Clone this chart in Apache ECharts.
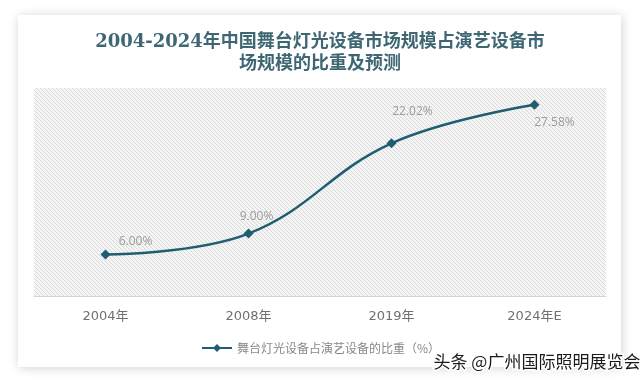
<!DOCTYPE html>
<html><head><meta charset="utf-8">
<script src="https://cdn.jsdelivr.net/npm/echarts@6/dist/echarts.min.js"></script>
<style>html,body{margin:0;padding:0;background:#fff}#c{width:640px;height:383px}</style>
</head><body><div id="c"></div>
<script>
const categories = ['2004年', '2008年', '2019年', '2024年E'];
const shareValues = [6.00, 9.00, 22.02, 27.58];
const seriesName = '舞台灯光设备占演艺设备的比重（%）';
const titleText = '2004-2024年中国舞台灯光设备市场规模占演艺设备市\n场规模的比重及预测';
const watermark = '头条 @广州国际照明展览会';
const labelOffsets = [[30, -13], [8, -17], [21, -32], [20, 18]];

// hatch pattern
const pc = document.createElement('canvas');
pc.width = 4; pc.height = 4;
const px = pc.getContext('2d');
px.fillStyle = '#f5f5f5'; px.fillRect(0, 0, 4, 4);
px.fillStyle = '#d9d9d9';
for (let y = 0; y < 4; y++) for (let x = 0; x < 4; x++) if (((x - y) % 4 + 4) % 4 === 0) px.fillRect(x, y, 1, 1);

const chart = echarts.init(document.getElementById('c'), null, {renderer: 'canvas'});
const lineColor = '#1f5d72';
chart.setOption({
  backgroundColor: '#fff',
  animation: false,
  graphic: [
    {type: 'rect', z: -10, shape: {x: 18, y: 15, width: 603, height: 352},
     style: {fill: '#fff', shadowBlur: 10, shadowColor: 'rgba(0,0,0,0.18)', shadowOffsetX: 1, shadowOffsetY: 1}},
    {type: 'text', z: 100, left: 432, top: 352,
     style: {text: watermark, fontSize: 17, fill: '#1a1a1a', stroke: '#fff', lineWidth: 3,
             fontFamily: 'Noto Sans CJK SC'}}
  ],
  title: {
    text: titleText, left: 'center', top: 26,
    textStyle: {fontSize: 18, fontWeight: 'bold', color: '#3f6773', lineHeight: 22,
                fontFamily: '"DejaVu Serif", "Noto Sans CJK SC", serif'}
  },
  legend: {
    data: [seriesName], left: 196, top: 337, itemWidth: 30, itemHeight: 10,
    textStyle: {fontSize: 12, color: '#888', fontFamily: '"Noto Sans CJK SC"'}
  },
  grid: {left: 34, right: 34, top: 88, bottom: 87, show: true, borderWidth: 0,
         backgroundColor: {image: pc, repeat: 'repeat'}},
  xAxis: {
    type: 'category', data: categories, boundaryGap: true,
    axisLine: {lineStyle: {color: '#d4d4d4', width: 1}},
    axisTick: {show: false},
    axisLabel: {margin: 14, fontSize: 13, color: '#707070', fontFamily: '"DejaVu Sans", "Noto Sans CJK SC"'}
  },
  yAxis: {type: 'value', min: 0, max: 30, interval: 10, show: false, splitLine: {show: false}},
  series: [{
    name: seriesName, type: 'line', smooth: 0.4,
    data: shareValues.map((v, i) => ({value: v, label: {offset: labelOffsets[i]}})),
    symbol: 'diamond', symbolSize: 10,
    lineStyle: {color: lineColor, width: 2.5},
    itemStyle: {color: lineColor},
    label: {show: true, position: 'inside', fontSize: 12, color: '#9c9c9c',
            fontFamily: '"Open Sans", "Noto Sans"',
            formatter: p => p.value.toFixed(2) + '%'}
  }]
});
</script></body></html>
